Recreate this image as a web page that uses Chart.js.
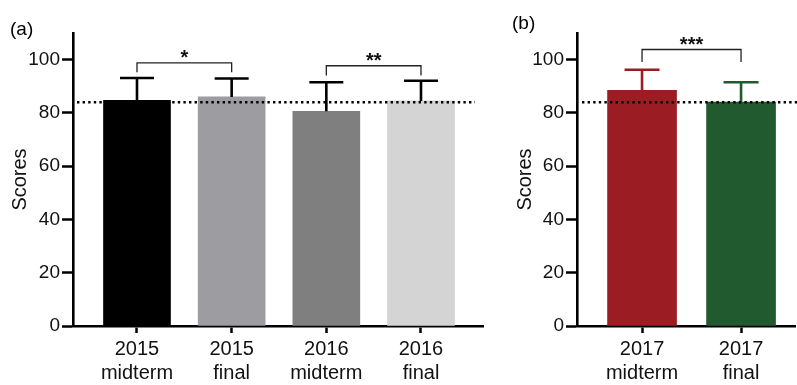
<!DOCTYPE html>
<html>
<head>
<meta charset="utf-8">
<script src="https://cdn.jsdelivr.net/npm/chart.js@4.4.1/dist/chart.umd.min.js"></script>
<style>
    html, body { margin: 0; padding: 0; background: #fff; }
    #wrap { position: relative; width: 797px; height: 385px; }
    .panel { position: absolute; top: 0; height: 385px; }
</style>
</head>
<body>
<div id="wrap">
    <div class="panel" style="left:0;width:490px"><canvas id="chartA"></canvas></div>
    <div class="panel" style="left:497px;width:300px"><canvas id="chartB"></canvas></div>
</div>
<script>
// panel (a)
const labelsA = [['2015', 'midterm'], ['2015', 'final'], ['2016', 'midterm'], ['2016', 'final']];
const meansA = [84.7, 86.0, 80.6, 84.5];
const errorsA = [8.4, 6.9, 10.9, 7.6];
const colorsA = ['#000000', '#9d9ca1', '#7f7f7f', '#d4d4d4'];
const errColorsA = ['#000000', '#000000', '#000000', '#000000'];
const bracketsA = [
    { from: 0, to: 1, top: 98.8, foot: 95.3, text: '*' },
    { from: 2, to: 3, top: 97.7, foot: 94.0, text: '**' }
];

// panel (b)
const labelsB = [['2017', 'midterm'], ['2017', 'final']];
const meansB = [88.5, 84.1];
const errorsB = [7.7, 7.4];
const colorsB = ['#9b1c22', '#215a2f'];
const bracketsB = [
    { from: 0, to: 1, top: 103.8, foot: 99.1, text: '***' }
];

const yTicks = [0, 20, 40, 60, 80, 100];
const yMax = 110;
const refLine = 84;

const FONT = "'Liberation Sans', Arial, Helvetica, sans-serif";

const extrasPlugin = {
    id: 'extras',
    afterDatasetsDraw(chart, args, o) {
        const { ctx, chartArea, scales: { x, y } } = chart;
        ctx.save();

        // error bars (upper only)
        ctx.lineWidth = 2.6;
        o.means.forEach((m, i) => {
            const px = x.getPixelForValue(i);
            const y0 = y.getPixelForValue(m);
            const y1 = y.getPixelForValue(m + o.errors[i]);
            ctx.strokeStyle = o.errColors[i];
            ctx.beginPath();
            ctx.moveTo(px, y0);
            ctx.lineTo(px, y1);
            ctx.moveTo(px - o.cap, y1);
            ctx.lineTo(px + o.cap, y1);
            ctx.stroke();
        });

        // dotted reference line
        const ry = y.getPixelForValue(refLine);
        ctx.strokeStyle = '#000';
        ctx.lineWidth = 2.4;
        ctx.setLineDash([2.4, 3.2]);
        ctx.beginPath();
        ctx.moveTo(chartArea.left + o.lineStart, ry);
        ctx.lineTo(chartArea.right + o.lineEnd, ry);
        ctx.stroke();
        ctx.setLineDash([]);

        // significance brackets
        ctx.strokeStyle = '#222';
        ctx.lineWidth = 1.3;
        ctx.fillStyle = '#111';
        ctx.font = 'bold 20px ' + FONT;
        ctx.textAlign = 'center';
        ctx.textBaseline = 'alphabetic';
        o.brackets.forEach(b => {
            const x1 = x.getPixelForValue(b.from);
            const x2 = x.getPixelForValue(b.to);
            const yt = y.getPixelForValue(b.top);
            const yf = y.getPixelForValue(b.foot);
            ctx.beginPath();
            ctx.moveTo(x1, yf);
            ctx.lineTo(x1, yt);
            ctx.lineTo(x2, yt);
            ctx.lineTo(x2, yf);
            ctx.stroke();
            ctx.fillText(b.text, (x1 + x2) / 2, yt + 1);
        });

        // panel letter
        ctx.fillStyle = '#000';
        ctx.font = '19px ' + FONT;
        ctx.textAlign = 'left';
        ctx.fillText(o.letter, o.letterX, o.letterY);
        ctx.restore();
    }
};

function makeChart(id, labels, means, errors, colors, errColors, brackets, opt) {
    const ctx = document.getElementById(id).getContext('2d');
    return new Chart(ctx, {
        type: 'bar',
        data: {
            datasets: [{
                data: means.map((v, i) => ({ x: i, y: v })),
                backgroundColor: colors,
                borderWidth: 0,
                barThickness: opt.barWidth
            }]
        },
        options: {
            responsive: true,
            maintainAspectRatio: false,
            animation: false,
            layout: { padding: { top: 33, right: opt.padRight, left: 0, bottom: 0 } },
            plugins: {
                legend: { display: false },
                tooltip: { enabled: false },
                extras: {
                    means: means, errors: errors, errColors: errColors, brackets: brackets,
                    cap: opt.cap, lineStart: opt.lineStart, lineEnd: opt.lineEnd,
                    letter: opt.letter, letterX: opt.letterX, letterY: opt.letterY
                }
            },
            scales: {
                x: {
                    type: 'linear',
                    offset: false,
                    min: opt.xMin,
                    max: opt.xMax,
                    afterBuildTicks: s => { s.ticks = labels.map((_, i) => ({ value: i })); },
                    afterFit: s => { s.height = 59; },
                    grid: { offset: false, drawOnChartArea: false, drawTicks: true, tickLength: 7, tickWidth: 2.5, tickColor: '#000' },
                    border: { display: true, color: '#000', width: 2.6 },
                    ticks: {
                        color: '#111',
                        font: { family: FONT, size: 20 },
                        padding: 4,
                        maxRotation: 0,
                        autoSkip: false,
                        callback: v => labels[v]
                    }
                },
                y: {
                    min: 0,
                    max: yMax,
                    afterBuildTicks: s => { s.ticks = yTicks.map(v => ({ value: v })); },
                    afterFit: s => { s.width = opt.yWidth; },
                    grid: { drawOnChartArea: false, drawTicks: true, tickLength: 11, tickWidth: 2.5, tickColor: '#000' },
                    border: { display: true, color: '#000', width: 2.6 },
                    ticks: {
                        color: '#111',
                        font: { family: FONT, size: 19 },
                        padding: 2
                    },
                    title: {
                        display: true,
                        text: 'Scores',
                        color: '#111',
                        font: { family: FONT, size: 20 },
                        padding: { top: opt.titlePad, bottom: 0 }
                    }
                }
            }
        },
        plugins: [extrasPlugin]
    });
}

makeChart('chartA', labelsA, meansA, errorsA, colorsA, errColorsA, bracketsA, {
    padRight: 7, yWidth: 73, xMin: -0.676, xMax: 3.655, barWidth: 67, cap: 17,
    lineStart: 4, lineEnd: -8, titlePad: 8, letter: '(a)', letterX: 10, letterY: 35
});
makeChart('chartB', labelsB, meansB, errorsB, colorsB, colorsB, bracketsB, {
    padRight: 2, yWidth: 80, xMin: -0.657, xMax: 1.545, barWidth: 69, cap: 17.5,
    lineStart: 5, lineEnd: 2, titlePad: 16, letter: '(b)', letterX: 15, letterY: 29
});
</script>
</body>
</html>
